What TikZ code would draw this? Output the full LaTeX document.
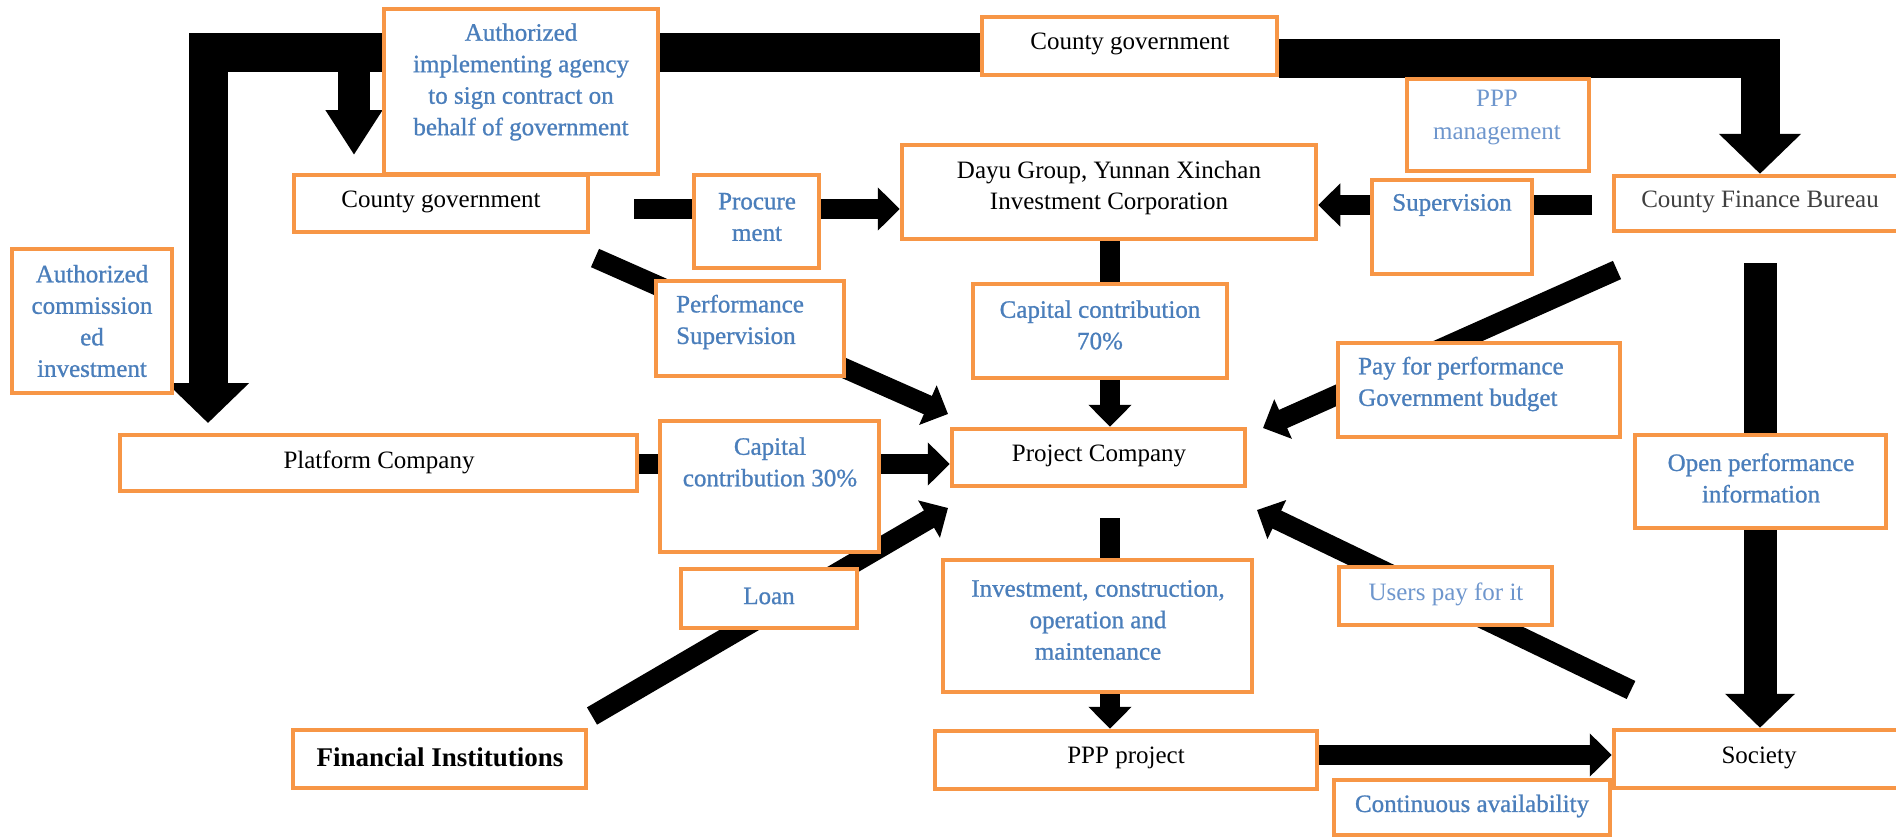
\documentclass[tikz,border=0pt]{standalone}
\usepackage{fontspec}
\setmainfont{Liberation Serif}
\newfontfamily\semibfont[FakeBold=0.9]{Liberation Serif}
\usetikzlibrary{arrows.meta,fit}
\definecolor{boxorange}{RGB}{247,150,70}
\definecolor{txtblue}{RGB}{74,126,187}
\definecolor{txtlblue}{RGB}{110,150,205}
\definecolor{txtgray}{RGB}{64,64,64}
\pgfdeclarelayer{bg}
\pgfsetlayers{bg,main}
\tikzset{
  box/.style={draw=boxorange, line width=4.5pt, fill=white, inner sep=0pt},
  arrthin/.style={line width=20pt, -{Triangle[width=42pt,length=22pt]}},
  arrsmall/.style={line width=32pt, -{Triangle[width=54pt,length=45pt]}},
  arrmid/.style={line width=33pt, -{Triangle[width=68pt,length=34pt]}},
  arrbig/.style={line width=39pt, -{Triangle[width=80pt,length=40pt]}},
  btxt/.style={font=\fontsize{25}{31.5}\selectfont, text=black, align=center, inner sep=0pt},
  bltxt/.style={font=\semibfont\fontsize{25}{31.5}\selectfont, text=txtblue, align=center, inner sep=0pt},
  lbtxt/.style={font=\fontsize{25}{33}\selectfont, text=txtlblue, align=center, inner sep=0pt},
}
\begin{document}
\begin{tikzpicture}[x=1pt,y=-1pt]
\clip (0,0) rectangle (1896,839);
% boxes
\node[box, fit={(384,9) (658,174)}] (A) {};
\node[box, fit={(982,17) (1277,75)}] (B) {};
\node[box, fit={(1407,79) (1589,171)}] (C) {};
\node[box, fit={(1614,176) (1905,231)}] (D) {};
\node[box, fit={(1372,180) (1532,274)}] (E) {};
\node[box, fit={(902,145) (1316,239)}] (F) {};
\node[box, fit={(694,175) (819,268)}] (G) {};
\node[box, fit={(294,175) (588,232)}] (H) {};
\node[box, fit={(12,249) (172,393)}] (I) {};
\node[box, fit={(656,281) (844,376)}] (J) {};
\node[box, fit={(973,284) (1227,378)}] (K) {};
\node[box, fit={(1338,343) (1620,437)}] (L) {};
\node[box, fit={(120,435) (637,491)}] (M) {};
\node[box, fit={(660,421) (879,552)}] (N) {};
\node[box, fit={(952,429) (1245,486)}] (O) {};
\node[box, fit={(1635,435) (1886,528)}] (P) {};
\node[box, fit={(681,569) (857,628)}] (Q) {};
\node[box, fit={(943,560) (1252,692)}] (R) {};
\node[box, fit={(1339,567) (1552,625)}] (S) {};
\node[box, fit={(935,731) (1317,789)}] (T) {};
\node[box, fit={(1614,730) (1905,788)}] (U) {};
\node[box, fit={(1334,780) (1610,835)}] (V) {};
\node[box, fit={(293,730) (586,788)}] (W) {};
% coordinates
\coordinate (lbarY) at (0,52.5);
\coordinate (lbarX) at (208,0);
\coordinate (lTip) at (208,423);
\coordinate (rbarY) at (0,58);
\coordinate (rX) at (1760,0);
\coordinate (sTop) at (354,60);
\coordinate (sTip) at (354,155);
\coordinate (pS) at (634,209);
\coordinate (sS) at (1592,205);
\coordinate (c70) at (1110,0);
\coordinate (psS) at (595,258);
\coordinate (psE) at (948,414);
\coordinate (c30Y) at (0,464);
\coordinate (lnS) at (592,716);
\coordinate (lnE) at (948,508);
\coordinate (pyS) at (1617,270);
\coordinate (pyE) at (1263,428);
\coordinate (usS) at (1631,690);
\coordinate (usE) at (1257,510);
\coordinate (ivS) at (1110,518);
\coordinate (ppY) at (0,755);
\coordinate (opS) at (1760,263);
\begin{pgfonlayer}{bg}
\draw[arrbig] (B.west |- lbarY) -- (lbarX |- lbarY) -- (lTip);
\draw[arrbig] (B.east |- rbarY) -- (rX |- rbarY) -- (rX |- D.north);
\draw[arrsmall] (sTop) -- (sTip);
\draw[arrthin] (pS) -- (pS -| F.west);
\draw[arrthin] (sS) -- (sS -| F.east);
\draw[arrthin] (c70 |- F.south) -- (c70 |- O.north);
\draw[arrthin] (psS) -- (psE);
\draw[arrthin] (M.east |- c30Y) -- (O.west |- c30Y);
\draw[arrthin] (lnS) -- (lnE);
\draw[arrthin] (pyS) -- (pyE);
\draw[arrthin] (usS) -- (usE);
\draw[arrthin] (ivS) -- (ivS |- T.north);
\draw[arrthin] (T.east |- ppY) -- (U.west |- ppY);
\draw[arrmid] (opS) -- (opS |- U.north);
\end{pgfonlayer}
% texts
\node[bltxt] (tA) at (521,82) {Authorized\\implementing agency\\to sign contract on\\behalf of government};
\node[btxt] (tB) at (1130,44) {County government};
\node[lbtxt] (tC) at (1497,118) {PPP\\management};
\node[btxt, text=txtgray] (tD) at (1760,202) {County Finance Bureau};
\node[bltxt] (tE) at (1452,205) {Supervision};
\node[btxt] (tF) at (1109,188) {Dayu Group, Yunnan Xinchan\\Investment Corporation};
\node[bltxt] (tG) at (757,217) {Procure\\ment};
\node[btxt] (tH) at (441,202) {County government};
\node[bltxt] (tI) at (92,321) {Authorized\\commission\\ed\\investment};
\node[bltxt, align=left, anchor=west] (tJ) at (676,322) {Performance\\Supervision};
\node[bltxt] (tK) at (1100,325) {Capital contribution\\70\%};
\node[bltxt, align=left, anchor=west] (tL) at (1358,384) {Pay for performance\\Government budget};
\node[btxt] (tM) at (379,462) {Platform Company};
\node[bltxt] (tN) at (770,462) {Capital\\contribution 30\%};
\node[btxt] (tO) at (1099,456) {Project Company};
\node[bltxt] (tP) at (1761,478) {Open performance\\information};
\node[bltxt] (tQ) at (769,596) {Loan};
\node[bltxt] (tR) at (1098,620) {Investment, construction,\\operation and\\maintenance};
\node[lbtxt] (tS) at (1446,594) {Users pay for it};
\node[btxt] (tT) at (1126,758) {PPP project};
\node[btxt] (tU) at (1759,758) {Society};
\node[bltxt] (tV) at (1472,806) {Continuous availability};
\node[btxt, font=\fontsize{27}{32}\selectfont\bfseries] (tW) at (440,757) {Financial Institutions};
\end{tikzpicture}
\end{document}
